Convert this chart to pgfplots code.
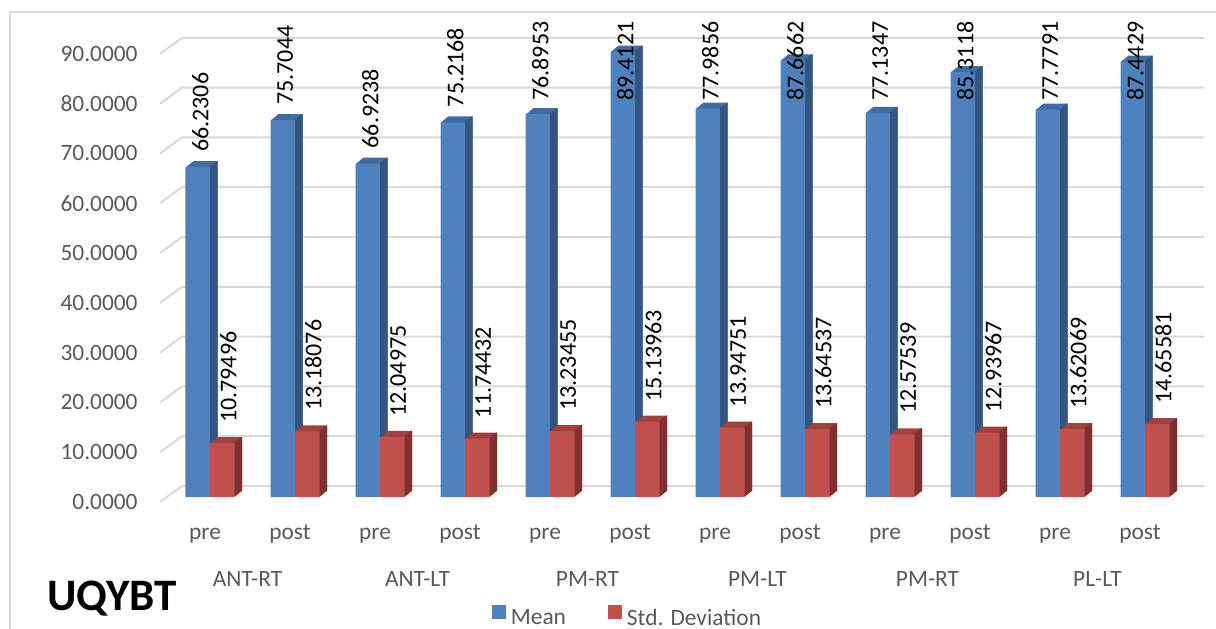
\documentclass[border=0pt]{standalone}
\usepackage{pgfplots}
\pgfplotsset{compat=1.18}
\usepackage{pgfplotstable}
\usepackage{fontspec}
\setmainfont{Carlito}

\definecolor{meanfront}{HTML}{4F81BD}
\definecolor{meantop}{HTML}{3F6CA1}
\definecolor{meanside}{HTML}{32547F}
\definecolor{sdfront}{HTML}{C0504D}
\definecolor{sdtop}{HTML}{A1403D}
\definecolor{sdside}{HTML}{7F312F}
\definecolor{gridgray}{HTML}{D9D9D9}
\definecolor{txtgray}{HTML}{595959}

\newcommand\tickfont{\fontsize{11.7}{14}\selectfont}
\newcommand\labfont{\fontsize{12}{14}\selectfont}

% x: position, mean, std. deviation, printed labels
\pgfplotstableread{
x  mean     std       mlab     slab
0  66.2306  10.79496  66.2306  10.79496
1  75.7044  13.18076  75.7044  13.18076
2  66.9238  12.04975  66.9238  12.04975
3  75.2168  11.74432  75.2168  11.74432
4  76.8953  13.23455  76.8953  13.23455
5  89.4121  15.13963  89.4121  15.13963
6  77.9856  13.94751  77.9856  13.94751
7  87.6662  13.64537  87.6662  13.64537
8  77.1347  12.57539  77.1347  12.57539
9  85.3118  12.93967  85.3118  12.93967
10 77.7791  13.62069  77.7791  13.62069
11 87.4429  14.65581  87.4429  14.65581
}\data

\begin{document}
\begin{tikzpicture}
\useasboundingbox (0,0) rectangle (608pt,314pt);
% chart frame
\draw[gridgray, line width=0.8pt] (5pt,308pt) rectangle (620pt,-10pt);

\begin{axis}[
  x=42.5pt, y=2.49pt,
  anchor=origin, at={(105pt,65.5pt)},
  xmin=-0.6, xmax=11.45, ymin=0, ymax=90,
  clip=false,
  axis line style={draw=none},
  major tick length=0pt,
  tick style={draw=none},
  ytick={0,10,...,90},
  yticklabel={\tickfont\pgfmathprintnumber[fixed, fixed zerofill, precision=4, assume math mode=true]{\tick}},
  every y tick label/.append style={anchor=east, inner sep=0pt, xshift=-10.5pt, yshift=-2.5pt, text=txtgray},
  xtick={0,...,11},
  xticklabels={pre,post,pre,post,pre,post,pre,post,pre,post,pre,post},
  xticklabel style={anchor=base, inner sep=0pt, xshift=-2.5pt, yshift=-21pt, font=\tickfont, text=txtgray},
  extra x ticks={0.5,2.5,4.5,6.5,8.5,10.5},
  extra x tick labels={ANT-RT,ANT-LT,PM-RT,PM-LT,PM-RT,PL-LT},
  extra x tick style={every x tick label/.style={anchor=base, inner sep=0pt, xshift=-2.5pt, yshift=-44.5pt, font=\tickfont, text=txtgray}},
  legend columns=2,
  legend style={at={(0.4564,-0.2935)}, anchor=south, draw=none, fill=none,
    inner sep=0pt, font=\tickfont, text=txtgray,
    nodes={inner sep=0pt},
    /tikz/every odd column/.append style={column sep=2.5pt},
    /tikz/every even column/.append style={column sep=21pt}},
]

% back-wall gridlines and their floor edges
\pgfplotsinvokeforeach{0,10,...,90}{
  \draw[gridgray, line width=1pt] ([yshift=-2.5pt]axis cs:-0.588,#1) -- ([yshift=5.5pt]axis cs:-0.329,#1) -- ([yshift=5.5pt]axis cs:11.694,#1);
}

% Mean: top face, side face, front face
\pgfplotsinvokeforeach{1,...,8}{
  \addplot[ybar, bar width=12.25pt, bar shift=-6.125pt, fill=meantop, draw=none, forget plot,
    xshift=#1*0.47pt, yshift=#1*0.375pt] table[x=x, y=mean] {\data};
}
\pgfplotsinvokeforeach{1,...,8}{
  \addplot[ybar, bar width=0.6pt, bar shift=-0.3pt, fill=meanside, draw=none, forget plot,
    xshift=#1*0.47pt, yshift=#1*0.375pt] table[x=x, y=mean] {\data};
}
\addplot[ybar, bar width=12.25pt, bar shift=-6.125pt, fill=meanfront, draw=none,
  legend image code/.code={\fill[meanfront] (0pt,0pt) rectangle (7pt,7pt);}]
  table[x=x, y=mean] {\data};
\addlegendentry{Mean}

% Std. Deviation: top face, side face, front face
\pgfplotsinvokeforeach{1,...,8}{
  \addplot[ybar, bar width=12.25pt, bar shift=6.125pt, fill=sdtop, draw=none, forget plot,
    xshift=#1*0.47pt, yshift=#1*0.375pt] table[x=x, y=std] {\data};
}
\pgfplotsinvokeforeach{1,...,8}{
  \addplot[ybar, bar width=0.6pt, bar shift=11.95pt, fill=sdside, draw=none, forget plot,
    xshift=#1*0.47pt, yshift=#1*0.375pt] table[x=x, y=std] {\data};
}
\addplot[ybar, bar width=12.25pt, bar shift=6.125pt, fill=sdfront, draw=none,
  legend image code/.code={\fill[sdfront] (0pt,0pt) rectangle (7pt,7pt);}]
  table[x=x, y=std] {\data};
\addlegendentry{Std. Deviation}

% value labels (kept inside the top of the plot area)
\addplot[only marks, mark=*, mark size=0pt, mark options={draw=none, fill=none}, forget plot,
  point meta=explicit symbolic, nodes near coords,
  nodes near coords style={xshift=-4.875pt, yshift=7.5pt, rotate=90, anchor=west, inner sep=0pt, font=\labfont, text=black}]
  table[x=x, y expr={min(\thisrow{mean},76.5)}, meta=mlab] {\data};
\addplot[only marks, mark=*, mark size=0pt, mark options={draw=none, fill=none}, forget plot,
  point meta=explicit symbolic, nodes near coords,
  nodes near coords style={xshift=9.125pt, yshift=10pt, rotate=90, anchor=west, inner sep=0pt, font=\labfont, text=black}]
  table[x=x, y=std, meta=slab] {\data};
\end{axis}

\node[anchor=base west, inner sep=0pt, font=\fontsize{22.5}{26}\selectfont\bfseries] at (23.5pt,9pt) {UQYBT};
\end{tikzpicture}
\end{document}
